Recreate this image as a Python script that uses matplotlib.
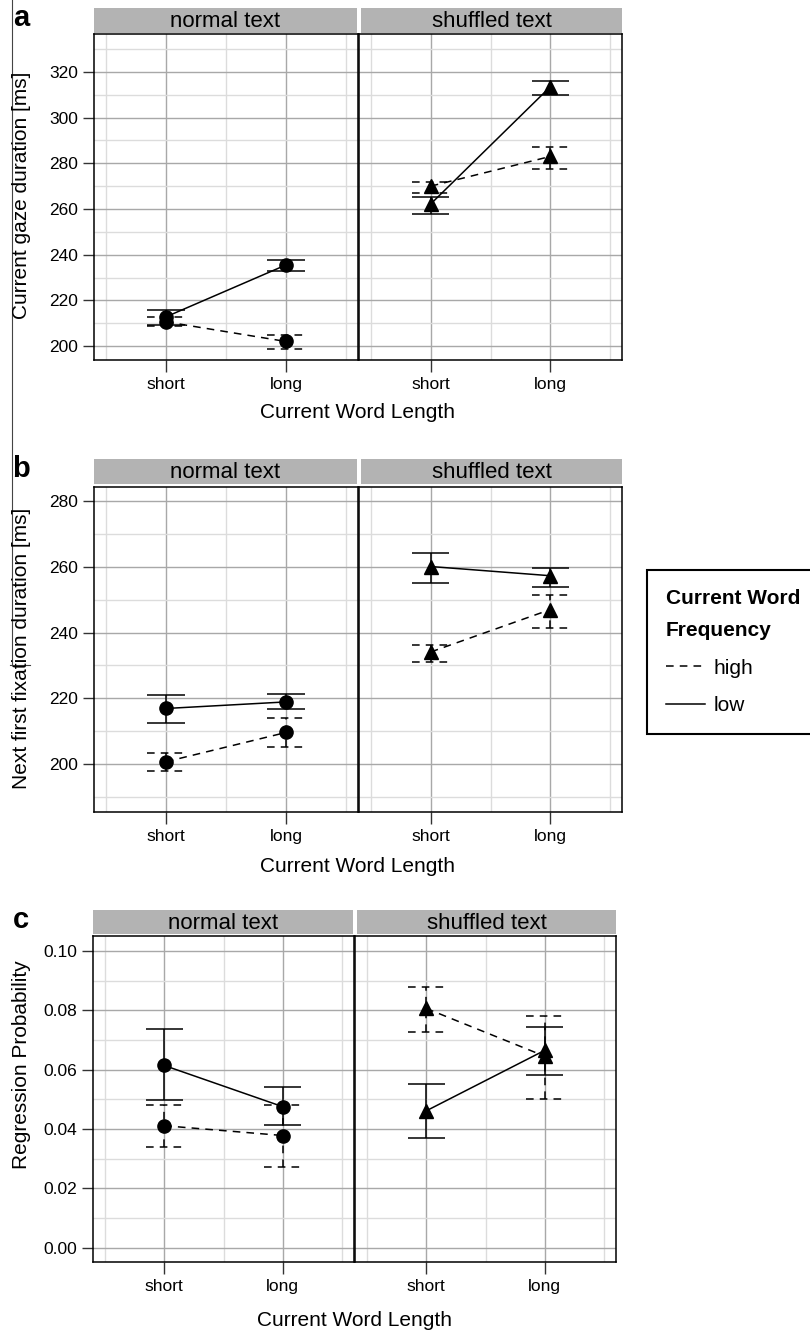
import numpy as np
import matplotlib.pyplot as plt
from matplotlib.lines import Line2D
from matplotlib.ticker import MultipleLocator, FixedLocator, FormatStrFormatter

plt.rcParams['font.family'] = ['Liberation Sans', 'DejaVu Sans']

W, H = 810, 1331

conditions = ['short', 'long']
text_types = ['normal text', 'shuffled text']
freq_levels = ['high', 'low']

# (a) current gaze duration [ms]: means and (lower, upper) error bars
gaze_normal_high = [210.6, 202.0]
gaze_normal_high_ci = [(208.8, 212.6), (198.6, 205.0)]
gaze_normal_low = [212.8, 235.5]
gaze_normal_low_ci = [(209.2, 215.8), (233.0, 237.8)]
gaze_shuffled_high = [270.0, 283.0]
gaze_shuffled_high_ci = [(267.0, 271.7), (277.5, 287.0)]
gaze_shuffled_low = [262.2, 313.5]
gaze_shuffled_low_ci = [(257.7, 265.2), (310.0, 316.0)]

# (b) next first fixation duration [ms]
fix_normal_high = [200.7, 209.6]
fix_normal_high_ci = [(198.0, 203.5), (205.1, 214.1)]
fix_normal_low = [216.9, 218.9]
fix_normal_low_ci = [(212.6, 221.1), (216.6, 221.3)]
fix_shuffled_high = [234.1, 247.0]
fix_shuffled_high_ci = [(231.1, 236.1), (241.3, 251.3)]
fix_shuffled_low = [260.1, 257.3]
fix_shuffled_low_ci = [(255.2, 264.2), (253.8, 259.7)]

# (c) regression probability
reg_normal_high = [0.0411, 0.0378]
reg_normal_high_ci = [(0.0341, 0.0482), (0.0271, 0.0482)]
reg_normal_low = [0.0614, 0.0475]
reg_normal_low_ci = [(0.0497, 0.0736), (0.0413, 0.0540)]
reg_shuffled_high = [0.0806, 0.0645]
reg_shuffled_high_ci = [(0.0727, 0.0879), (0.0502, 0.0781)]
reg_shuffled_low = [0.0461, 0.0665]
reg_shuffled_low_ci = [(0.0370, 0.0551), (0.0583, 0.0744)]

DASH = (0, (5, 4))
CAP = 0.155


def add_axes_px(fig, x0, y0, x1, y1):
    # pixel box measured from the top-left corner
    return fig.add_axes([x0 / W, 1 - y1 / H, (x1 - x0) / W, (y1 - y0) / H])


def draw_series(ax, means, ci, ls, marker):
    x = np.arange(1, len(means) + 1)
    lo = [c[0] for c in ci]
    hi = [c[1] for c in ci]
    ax.vlines(x, lo, hi, colors='black', linestyles=ls, lw=1.1, zorder=3)
    ax.hlines(lo, x - CAP, x + CAP, colors='black', linestyles=ls, lw=1.1, zorder=3)
    ax.hlines(hi, x - CAP, x + CAP, colors='black', linestyles=ls, lw=1.1, zorder=3)
    ax.plot(x, means, color='black', linestyle=ls, lw=1.1, zorder=4)
    ax.plot(x, means, color='black', linestyle='none', marker=marker,
            ms=9.5 if marker == 'o' else 10, zorder=5)


def style_axes(ax, ylim, major, minor, show_y, yfmt=None):
    ax.set_xlim(0.4, 2.6)
    ax.set_ylim(*ylim)
    ax.set_xticks([1, 2])
    ax.set_xticklabels(conditions)
    ax.xaxis.set_minor_locator(FixedLocator([0.5, 1.5, 2.5]))
    ax.yaxis.set_major_locator(MultipleLocator(major))
    ax.yaxis.set_minor_locator(FixedLocator(minor))
    if yfmt:
        ax.yaxis.set_major_formatter(FormatStrFormatter(yfmt))
    ax.grid(which='major', color='#a8a8a8', lw=1.0)
    ax.grid(which='minor', color='#dcdcdc', lw=1.0)
    ax.set_axisbelow(True)
    ax.tick_params(axis='x', which='major', direction='out', length=8.5, width=1.0,
                   color='#333333', labelsize=12.5, pad=3.5)
    ax.tick_params(axis='y', which='major', direction='out', length=8, width=1.0,
                   color='#333333', labelsize=12.5, pad=3.6)
    ax.tick_params(which='minor', length=0)
    if not show_y:
        ax.tick_params(axis='y', which='major', length=0, labelleft=False)
    for s in ax.spines.values():
        s.set_linewidth(1.1)
        s.set_color('black')


def add_strip(fig, x0, x1, y0, y1, label):
    sa = add_axes_px(fig, x0, y0, x1, y1)
    sa.set_facecolor('#b3b3b3')
    sa.set_xticks([])
    sa.set_yticks([])
    for s in sa.spines.values():
        s.set_visible(False)
    sa.text(0.5, 0.45, label, ha='center', va='center', fontsize=16, transform=sa.transAxes)


def make_panel(fig, letter, strip_y, plot_y, xs, ylim, major, minor, yfmt,
               series, ylabel, ylabel_y, xlabel_y):
    (nx0, nx1), (sx0, sx1) = xs
    ax_n = add_axes_px(fig, nx0, plot_y[0], nx1, plot_y[1])
    ax_s = add_axes_px(fig, sx0, plot_y[0], sx1, plot_y[1])
    style_axes(ax_n, ylim, major, minor, True, yfmt)
    style_axes(ax_s, ylim, major, minor, False, yfmt)
    add_strip(fig, nx0, nx1 - 1, strip_y[0], strip_y[1], text_types[0])
    add_strip(fig, sx0 + 2, sx1, strip_y[0], strip_y[1], text_types[1])

    (nh, nh_ci, nl, nl_ci), (sh, sh_ci, sl, sl_ci) = series
    draw_series(ax_n, nh, nh_ci, DASH, 'o')
    draw_series(ax_n, nl, nl_ci, '-', 'o')
    draw_series(ax_s, sh, sh_ci, DASH, '^')
    draw_series(ax_s, sl, sl_ci, '-', '^')

    fig.text(22 / W, 1 - ylabel_y / H, ylabel, rotation=90, ha='center', va='center', fontsize=15)
    fig.text((nx0 + sx1) / 2 / W, 1 - xlabel_y / H, 'Current Word Length',
             ha='center', va='center', fontsize=15)
    fig.text(21 / W, 1 - (strip_y[0] + 10) / H, letter, ha='center', va='center',
             fontsize=21, fontweight='bold')
    return ax_n, ax_s


fig = plt.figure(figsize=(W / 100, H / 100), dpi=100)

make_panel(fig, 'a', (8, 33), (34, 360), ((94, 358), (359, 622)),
           (193.9, 336.6), 20, np.arange(210, 340, 20), None,
           ((gaze_normal_high, gaze_normal_high_ci, gaze_normal_low, gaze_normal_low_ci),
            (gaze_shuffled_high, gaze_shuffled_high_ci, gaze_shuffled_low, gaze_shuffled_low_ci)),
           'Current gaze duration [ms]', 195, 413)

make_panel(fig, 'b', (459, 484), (487, 812), ((94, 358), (359, 622)),
           (185.4, 284.3), 20, np.arange(190, 290, 20), None,
           ((fix_normal_high, fix_normal_high_ci, fix_normal_low, fix_normal_low_ci),
            (fix_shuffled_high, fix_shuffled_high_ci, fix_shuffled_low, fix_shuffled_low_ci)),
           'Next first fixation duration [ms]', 648, 866)

make_panel(fig, 'c', (910, 934), (936, 1262), ((93, 354), (355, 616)),
           (-0.0048, 0.105), 0.02, np.arange(0.01, 0.1, 0.02), '%.2f',
           ((reg_normal_high, reg_normal_high_ci, reg_normal_low, reg_normal_low_ci),
            (reg_shuffled_high, reg_shuffled_high_ci, reg_shuffled_low, reg_shuffled_low_ci)),
           'Regression Probability', 1065, 1320)

# Shared legend on the right of panel b
handles = [Line2D([], [], color='black', lw=1.1, linestyle=DASH),
           Line2D([], [], color='black', lw=1.1, linestyle='-')]
leg = fig.legend(handles, freq_levels, loc='upper left',
                 bbox_to_anchor=(647 / W, 1 - 570 / H), borderaxespad=0,
                 title='Current Word\nFrequency', alignment='left',
                 title_fontproperties={'weight': 'bold', 'size': 15},
                 fontsize=15, frameon=True, fancybox=False, framealpha=1,
                 edgecolor='black', borderpad=0.9, handlelength=1.9,
                 handletextpad=0.4, labelspacing=0.88)
leg.get_frame().set_linewidth(1.5)
leg.get_title().set_linespacing(1.9)

# scan edge line on the left
fig.add_artist(Line2D([12 / W, 12 / W], [1, 1 - 665 / H], color='#444444', lw=0.8))
fig.add_artist(Line2D([10 / W, 30 / W], [1 - 665 / H, 1 - 665 / H], color='#444444', lw=0.8))

plt.savefig('out.png', dpi=100)
